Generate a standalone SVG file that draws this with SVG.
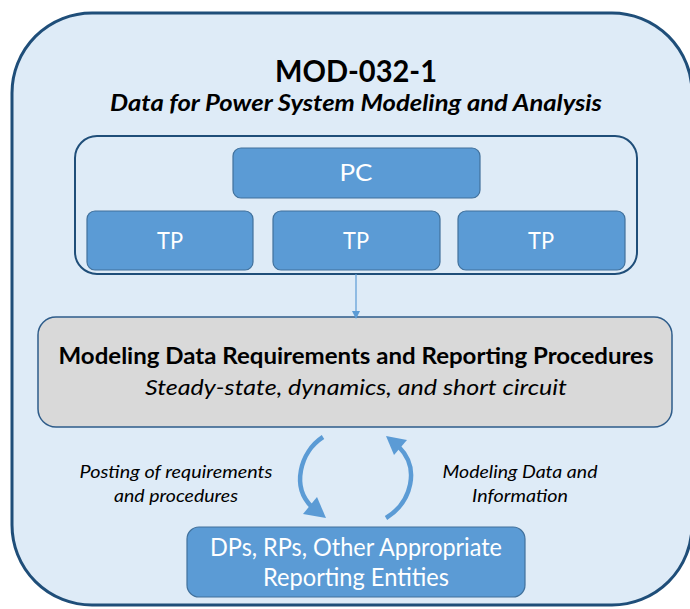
<svg xmlns="http://www.w3.org/2000/svg" width="690" height="609" viewBox="0 0 690 609">
<defs>
<style>
.t{font-family:Lato,"Open Sans","Liberation Sans",sans-serif;text-anchor:middle}
.box{fill:#5B9BD5;stroke:#41719C;stroke-width:1.2}
.wt{fill:#FFFFFF}
.bk{fill:#000000}
.arc{fill:none;stroke:#5B9BD5;stroke-width:4.5;stroke-linecap:butt}
.head{fill:#5B9BD5}
</style>
<marker id="ah" markerWidth="8" markerHeight="8" refX="7" refY="4" orient="auto" markerUnits="userSpaceOnUse">
<path d="M0,0 L8,4 L0,8 z" fill="#5B9BD5"/>
</marker>
</defs>

<g id="frame">
<rect x="12" y="13" width="680" height="592" rx="80" ry="80" fill="#DEEBF7" stroke="#1F4E79" stroke-width="3"/>
<text class="t bk" x="356" y="82" font-size="30" font-weight="bold" textLength="162" lengthAdjust="spacingAndGlyphs">MOD-032-1</text>
<text class="t bk" x="356" y="111" font-size="22" font-weight="bold" font-style="italic" textLength="492" lengthAdjust="spacingAndGlyphs">Data for Power System Modeling and Analysis</text>
</g>

<g id="planning-group">
<rect x="75" y="136" width="562" height="138" rx="22" ry="22" fill="none" stroke="#1F4E79" stroke-width="2"/>
</g>

<g id="pc">
<rect class="box" x="233" y="148" width="247" height="50" rx="8"/>
<text class="t wt" x="356" y="181" font-size="23" textLength="33" lengthAdjust="spacingAndGlyphs">PC</text>
</g>
<g id="tp1">
<rect class="box" x="87" y="211" width="166" height="59" rx="8"/>
<text class="t wt" x="170" y="249" font-size="23" textLength="26" lengthAdjust="spacingAndGlyphs">TP</text>
</g>
<g id="tp2">
<rect class="box" x="273" y="211" width="167" height="59" rx="8"/>
<text class="t wt" x="356" y="249" font-size="23" textLength="26" lengthAdjust="spacingAndGlyphs">TP</text>
</g>
<g id="tp3">
<rect class="box" x="458" y="211" width="167" height="59" rx="8"/>
<text class="t wt" x="541" y="249" font-size="23" textLength="26" lengthAdjust="spacingAndGlyphs">TP</text>
</g>

<g id="requirements">
<rect x="38" y="317" width="634" height="110" rx="18" ry="18" fill="#D9D9D9" stroke="#2E5C8A" stroke-width="1.5"/>
<text class="t bk" x="356" y="364" font-size="22" font-weight="bold" textLength="595" lengthAdjust="spacingAndGlyphs">Modeling Data Requirements and Reporting Procedures</text>
<text class="t bk" x="356" y="395" font-size="22" font-style="italic" textLength="422" lengthAdjust="spacingAndGlyphs">Steady-state, dynamics, and short circuit</text>
</g>

<g id="entities">
<rect class="box" x="187" y="527" width="338" height="70" rx="12"/>
<text class="t wt" x="356" y="556" font-size="25" textLength="292" lengthAdjust="spacingAndGlyphs">DPs, RPs, Other Appropriate</text>
<text class="t wt" x="356" y="586" font-size="25" textLength="186" lengthAdjust="spacingAndGlyphs">Reporting Entities</text>
</g>

<g id="connectors">
<line x1="356" y1="274" x2="356" y2="318" stroke="#5B9BD5" stroke-width="1.2" marker-end="url(#ah)"/>
<path class="arc" d="M323,437 C300,452 291,487 312,507"/>
<polygon class="head" points="326,518 303,514 317,497"/>
<path class="arc" d="M386,518 C412,502 420,468 399,447"/>
<polygon class="head" points="386,436 407,440 394,455"/>
<text class="t bk" x="176" y="478" font-size="17.5" font-style="italic" textLength="193" lengthAdjust="spacingAndGlyphs">Posting of requirements</text>
<text class="t bk" x="176" y="502" font-size="17.5" font-style="italic" textLength="124" lengthAdjust="spacingAndGlyphs">and procedures</text>
<text class="t bk" x="520" y="478" font-size="17.5" font-style="italic" textLength="155" lengthAdjust="spacingAndGlyphs">Modeling Data and</text>
<text class="t bk" x="520" y="502" font-size="17.5" font-style="italic" textLength="96" lengthAdjust="spacingAndGlyphs">Information</text>
</g>
</svg>
